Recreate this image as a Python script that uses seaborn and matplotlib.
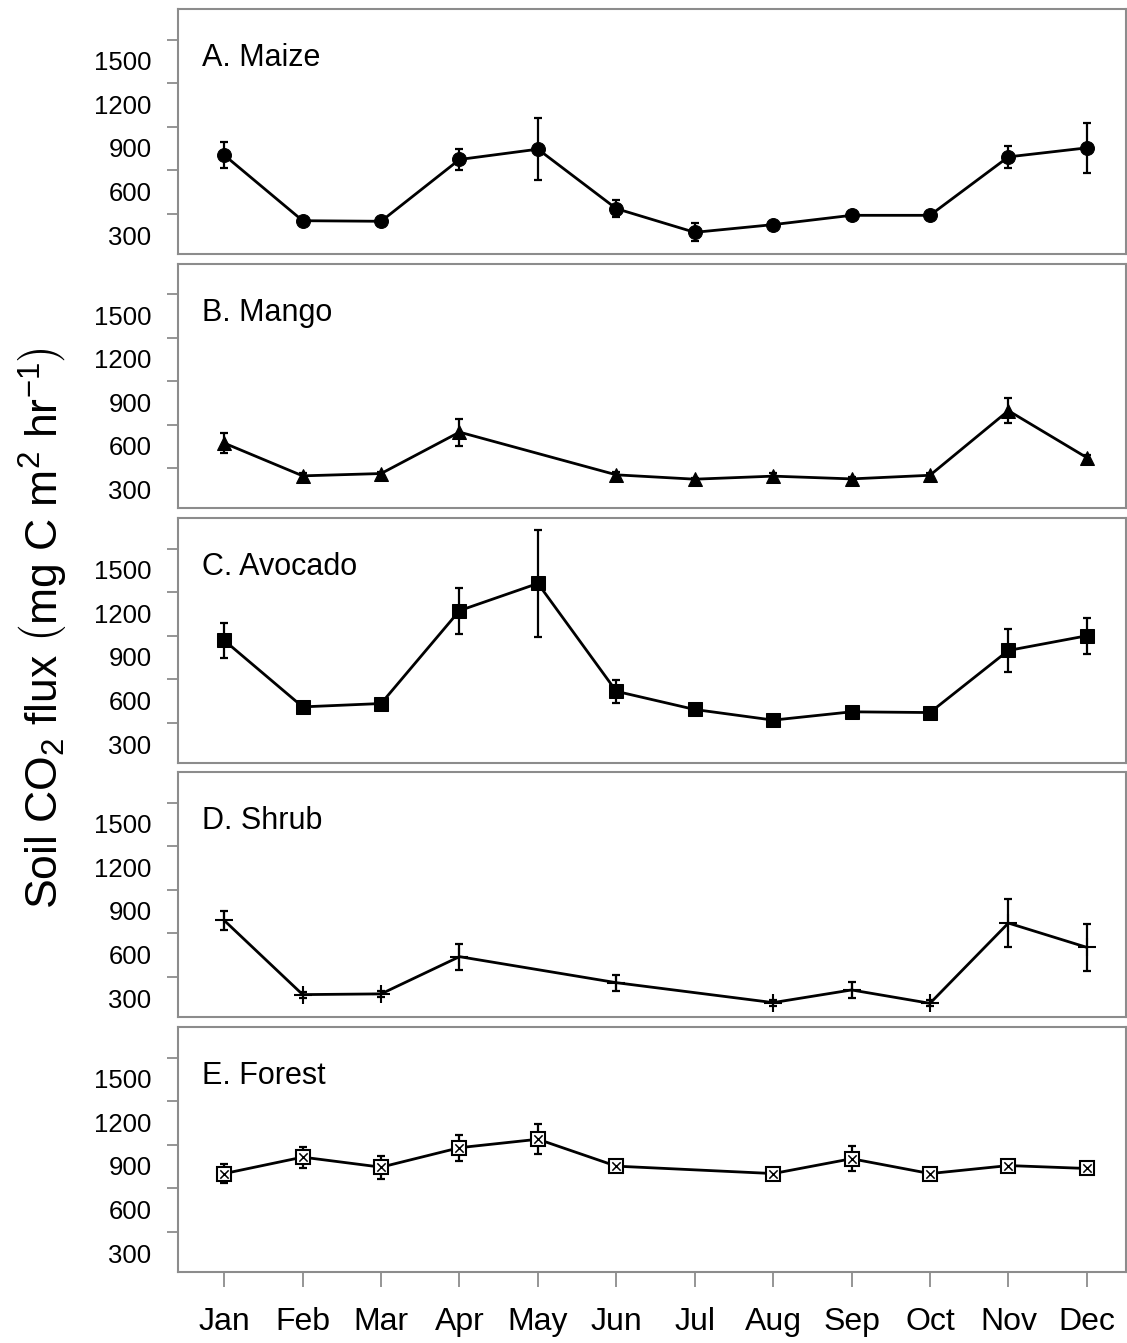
import numpy as np
import pandas as pd
import matplotlib
matplotlib.use("Agg")
import matplotlib.pyplot as plt
import seaborn as sns

months = ["Jan", "Feb", "Mar", "Apr", "May", "Jun", "Jul", "Aug", "Sep", "Oct", "Nov", "Dec"]
month_idx = list(range(12))

# Maize (all months)
maize_x = [0, 1, 2, 3, 4, 5, 6, 7, 8, 9, 10, 11]
maize_y = [705, 254, 250, 675, 746, 337, 174, 227, 291, 291, 693, 755]
maize_e = [88, 15, 15, 70, 215, 57, 62, 20, 25, 25, 75, 170]

# Mango (no May)
mango_x = [0, 1, 2, 3, 5, 6, 7, 8, 9, 10, 11]
mango_y = [473, 247, 263, 549, 254, 224, 245, 226, 251, 697, 373]
mango_e = [70, 20, 12, 93, 20, 10, 20, 15, 15, 85, 15]

# Avocado (all months)
avocado_x = [0, 1, 2, 3, 4, 5, 6, 7, 8, 9, 10, 11]
avocado_y = [868, 411, 434, 1073, 1260, 518, 393, 320, 377, 372, 799, 900]
avocado_e = [120, 20, 20, 158, 367, 78, 15, 15, 20, 20, 146, 123]

# Shrub (no May, Jul)
shrub_x = [0, 1, 2, 3, 5, 7, 8, 9, 10, 11]
shrub_y = [689, 179, 184, 440, 261, 124, 211, 119, 671, 504]
shrub_e = [63, 20, 20, 90, 55, 20, 57, 20, 167, 162]

# Forest (no Jul)
forest_x = [0, 1, 2, 3, 4, 5, 7, 8, 9, 10, 11]
forest_y = [702, 815, 746, 880, 938, 753, 702, 804, 702, 757, 737]
forest_e = [65, 73, 78, 90, 103, 25, 30, 85, 25, 15, 15]

panel_titles = ["A. Maize", "B. Mango", "C. Avocado", "D. Shrub", "E. Forest"]
ytick_vals = [300, 600, 900, 1200, 1500]

sns.set_style("white")
plt.rcParams["font.family"] = ["Liberation Sans", "DejaVu Sans"]
plt.rcParams["mathtext.fontset"] = "custom"
plt.rcParams["mathtext.rm"] = "Liberation Sans"
plt.rcParams["mathtext.it"] = "Liberation Sans"
plt.rcParams["text.color"] = "black"
plt.rcParams["xtick.labelcolor"] = "black"
plt.rcParams["ytick.labelcolor"] = "black"

W, H = 1127, 1343
fig = plt.figure(figsize=(W / 100, H / 100), dpi=100)

panel_px = [(9, 254), (264, 508), (518, 763), (772, 1017), (1027, 1272)]
left_px, right_px = 178, 1126
ylo, yhi = 25, 1710

series = [
    (maize_x, maize_y, maize_e, "o"),
    (mango_x, mango_y, mango_e, "^"),
    (avocado_x, avocado_y, avocado_e, "s"),
    (shrub_x, shrub_y, shrub_e, "+"),
    (forest_x, forest_y, forest_e, "s"),
]

spine_col = "#8c8c8c"

for i, ((top, bot), (xs, ys, es, mk), title) in enumerate(zip(panel_px, series, panel_titles)):
    ax = fig.add_axes([left_px / W, 1 - bot / H, (right_px - left_px) / W, (bot - top) / H])
    df = pd.DataFrame({"month": xs, "flux": ys})
    ax.errorbar(xs, ys, yerr=es, fmt="none", ecolor="black", elinewidth=1.6,
                capsize=3, capthick=1.6, zorder=2)
    if i == 3:
        sns.lineplot(data=df, x="month", y="flux", ax=ax, color="black", linewidth=2,
                     marker="+", markersize=13, markeredgewidth=1.5,
                     markeredgecolor="black", zorder=3)
    elif i == 4:
        sns.lineplot(data=df, x="month", y="flux", ax=ax, color="black", linewidth=2,
                     marker="s", markersize=10, markerfacecolor="white",
                     markeredgecolor="black", markeredgewidth=1.5, zorder=3)
        sns.scatterplot(data=df, x="month", y="flux", ax=ax, color="black", marker="x",
                        s=36, linewidth=1.1, zorder=4)
    else:
        sns.lineplot(data=df, x="month", y="flux", ax=ax, color="black", linewidth=2,
                     marker=mk, markersize=10, markerfacecolor="black",
                     markeredgecolor="black", zorder=3)
    ax.set_xlim(-0.59, 11.5)
    ax.set_ylim(ylo, yhi)
    ax.set_xlabel("")
    ax.set_ylabel("")
    # tick marks at the values; labels sit ~21 px lower, as in the reference
    ax.set_yticks(ytick_vals)
    ax.set_yticklabels([])
    px_per_unit = (bot - top) / (yhi - ylo)
    shift = 21 / px_per_unit
    ax.set_yticks([v - shift for v in ytick_vals], minor=True)
    ax.set_yticklabels([str(v) for v in ytick_vals], minor=True, fontsize=18.5)
    ax.tick_params(axis="y", which="major", direction="out", length=8, width=1.3,
                   color=spine_col, left=True)
    ax.tick_params(axis="y", which="minor", length=0, pad=19, left=True)
    if i < 4:
        ax.set_xticks([])
    else:
        ax.set_xticks(month_idx)
        ax.set_xticklabels(months, fontsize=23)
        ax.tick_params(axis="x", direction="out", length=11, width=1.3, color=spine_col,
                       pad=14, bottom=True)
    for sp in ax.spines.values():
        sp.set_color(spine_col)
        sp.set_linewidth(1.5)
    ax.text(0.025, 0.80, title, transform=ax.transAxes, fontsize=22, ha="left",
            va="center", color="black")

fig.text(42 / W, 1 - 628 / H, r"Soil CO$_2$ flux $\left(\mathrm{mg\ C\ m}^2\ \mathrm{hr}^{-1}\right)$",
         rotation=90, ha="center", va="center", fontsize=32, color="black")

fig.savefig("out.png", dpi=100, facecolor="white")
